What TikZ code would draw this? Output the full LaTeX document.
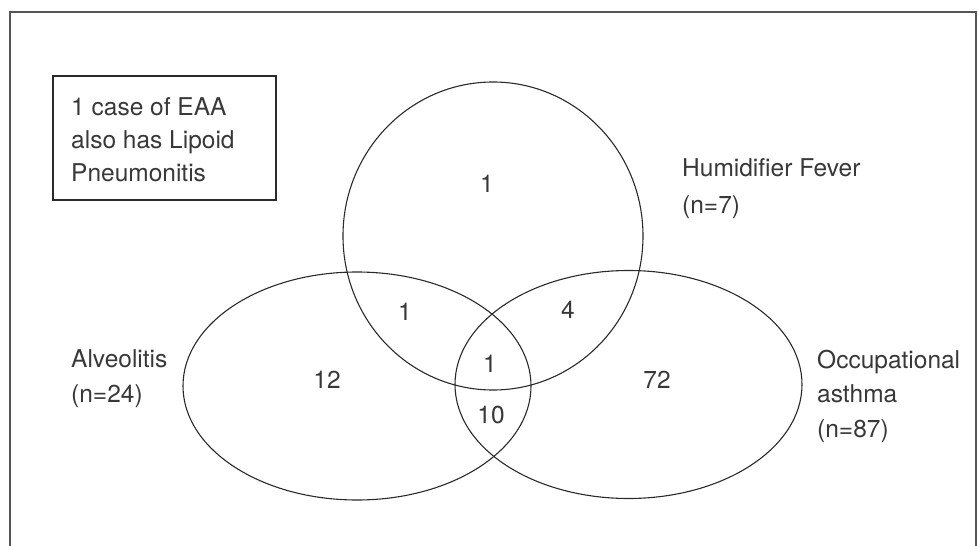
\documentclass[tikz,border=0pt]{standalone}
\usepackage{fontspec}
\setmainfont{TeX Gyre Heros}
\usetikzlibrary{shapes.geometric}
\definecolor{ink}{HTML}{2A2A2A}
\definecolor{txt}{HTML}{383838}
\definecolor{framec}{HTML}{555555}
\tikzset{
  setshape/.style={draw=ink, line width=1.1pt, ellipse, inner sep=0pt},
  lbl/.style={anchor=base west, align=left, inner sep=0pt, text=txt,
    font=\fontsize{24.5}{34.5}\selectfont},
  num/.style={anchor=base, inner sep=0pt, text=txt,
    font=\fontsize{24.5}{34.5}\selectfont},
}
\begin{document}
\begin{tikzpicture}[x=1pt,y=-1pt]
\useasboundingbox (0,0) rectangle (978,546);
% outer frame (open at the bottom)
\draw[framec, line width=1.6pt] (10,560) -- (10,12) -- (976,12) -- (976,560);
% note box
\node[draw=ink, line width=1.2pt, minimum width=223pt, minimum height=124pt,
  inner sep=0pt] (note) at (164.5,138) {};
% multi-line labels are anchored at the baseline of their last line
\node[lbl, font=\fontsize{24.5}{33}\selectfont] (notetext) at (71,181) {1 case of EAA\\also has Lipoid\\Pneumonitis};
% sets
\node[setshape, minimum width=300pt, minimum height=308pt] (hum) at (493,236) {};
\node[setshape, minimum width=348pt, minimum height=228pt] (alv) at (357,386) {};
\node[setshape, minimum width=347pt, minimum height=228pt] (occ) at (628.5,384.5) {};
% set labels
\node[lbl, font=\fontsize{24.5}{37}\selectfont] (humlbl) at (682,213) {Humidifier Fever\\(n=7)};
\node[lbl] (alvlbl) at (71,402) {Alveolitis\\(n=24)};
\node[lbl] (occlbl) at (817,437) {Occupational\\asthma\\(n=87)};
% counts
\node[num] (c1) at (487,192) {1};
\node[num] (c2) at (405,320) {1};
\node[num] (c3) at (568,318) {4};
\node[num] (c4) at (490,372) {1};
\node[num] (c5) at (491,423) {10};
\node[num] (c6) at (327,388) {12};
\node[num] (c7) at (657,388) {72};
\end{tikzpicture}
\end{document}
